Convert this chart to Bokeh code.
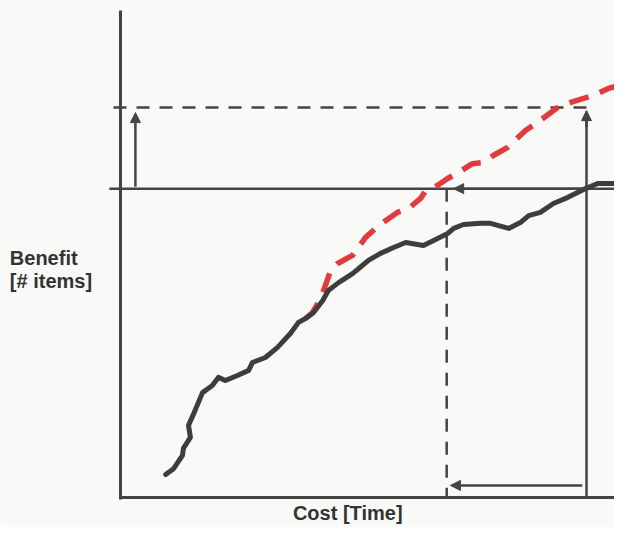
from bokeh.plotting import figure
from bokeh.models import Range1d, Arrow, NormalHead, Label
from bokeh.embed import file_html
from bokeh.resources import INLINE

# ---- data (cost in time units, benefit in # items) ----
black_cost = [0.97, 1.14, 1.33, 1.35, 1.50, 1.46, 1.57, 1.76, 1.97, 2.10, 2.25, 2.51, 2.75, 2.83,
              3.11, 3.37, 3.65, 3.82, 3.97, 4.14, 4.34, 4.46, 4.68, 4.98, 5.19, 5.32, 5.58, 5.86,
              6.12, 6.50, 6.72, 7.02, 7.15, 7.36, 7.73, 7.94, 8.33, 8.58, 8.76, 9.01, 9.29, 9.59,
              9.94, 10.24, 10.58, 10.78]
black_benefit = [0.59, 0.74, 1.08, 1.26, 1.54, 1.85, 2.15, 2.69, 2.87, 3.08, 3.00, 3.13, 3.26, 3.46,
                 3.59, 3.85, 4.21, 4.49, 4.59, 4.74, 5.05, 5.31, 5.51, 5.74, 5.95, 6.08, 6.26, 6.41,
                 6.54, 6.46, 6.59, 6.77, 6.90, 7.00, 7.03, 7.03, 6.90, 7.05, 7.23, 7.31, 7.54, 7.69,
                 7.90, 8.05, 8.05, 8.09]

red_cost = [3.97, 4.12, 4.23, 4.36, 4.51, 4.66, 4.98, 5.26, 5.54, 5.94, 6.18, 6.44, 6.55, 6.80,
            7.02, 7.25, 7.55, 7.77, 8.00, 8.30, 8.69, 8.95, 9.38, 9.66, 10.15, 10.47, 10.69]
red_benefit = [4.59, 4.74, 4.97, 5.31, 5.82, 6.00, 6.21, 6.67, 6.97, 7.31, 7.41, 7.67, 7.87, 8.00,
               8.18, 8.33, 8.56, 8.59, 8.77, 8.97, 9.41, 9.62, 10.00, 10.13, 10.31, 10.49, 10.56]

benefit_low = 7.92     # benefit reached by the original curve at max cost
benefit_high = 10.0    # benefit reached by the improved curve at max cost
cost_reduced = 7.0     # cost needed by the improved curve for benefit_low
cost_max = 10.0        # cost at which the original curve reaches benefit_low

x_label = "Cost  [Time]"
y_label_lines = ["Benefit", "[# items]"]

# ---- figure ----
X0, X1 = -2.575, 10.601
Y0, Y1 = -0.769, 12.744
INK = "#444444"
BG = "#f9f9f7"

p = figure(width=614, height=527, output_backend="svg", toolbar_location=None,
           x_range=Range1d(X0, X1), y_range=Range1d(Y0, Y1), min_border=0,
           background_fill_color=BG, border_fill_color=BG, outline_line_color=None)
p.axis.visible = False
p.grid.visible = False

# axes
p.line([0, X1], [0, 0], line_color=INK, line_width=3)
p.line([0, 0], [-0.05, 12.49], line_color=INK, line_width=3)

# reference levels
p.line([-0.24, X1], [benefit_low, benefit_low], line_color=INK, line_width=2.5)
p.line([-0.15, cost_max], [benefit_high, benefit_high], line_color=INK, line_width=2.5,
       line_dash="13 10")
p.line([cost_reduced, cost_reduced], [benefit_low, 0], line_color=INK, line_width=2.5,
       line_dash="13 10")
p.line([cost_max, cost_max], [0, benefit_high - 0.1], line_color=INK, line_width=2.5)

# curves
p.line(red_cost, red_benefit, line_color="#e23b3b", line_width=5.5, line_dash="20 12",
       line_cap="butt", line_join="round")
p.line(black_cost, black_benefit, line_color="#3d3d3d", line_width=5, line_join="round",
       line_cap="round")

def head():
    return NormalHead(size=10, fill_color=INK, line_color=INK, line_width=1)

# arrows
p.add_layout(Arrow(end=head(), x_start=cost_max, y_start=benefit_high - 0.5,
                   x_end=cost_max, y_end=benefit_high - 0.08, line_color=INK, line_width=2.5))
p.add_layout(Arrow(end=head(), x_start=0.32, y_start=benefit_low + 0.05,
                   x_end=0.32, y_end=benefit_high - 0.13, line_color=INK, line_width=2.5))
p.add_layout(Arrow(end=head(), x_start=cost_max - 0.09, y_start=0.31,
                   x_end=cost_reduced + 0.08, y_end=0.31, line_color=INK, line_width=2.5))
p.add_layout(Arrow(end=head(), x_start=cost_max, y_start=benefit_low,
                   x_end=cost_reduced + 0.15, y_end=benefit_low, line_color=INK, line_width=2.5))

# labels
lab_kw = dict(text_font="Liberation Sans", text_font_style="bold", text_font_size="20px",
              text_color="#333333", text_baseline="alphabetic")
p.add_layout(Label(x=-2.375, y=6.13, text=y_label_lines[0], **lab_kw))
p.add_layout(Label(x=-2.375, y=5.54, text=y_label_lines[1], **lab_kw))
p.add_layout(Label(x=3.70, y=-0.385, text=x_label, **lab_kw))

open("out.html", "w").write(file_html(p, INLINE))
